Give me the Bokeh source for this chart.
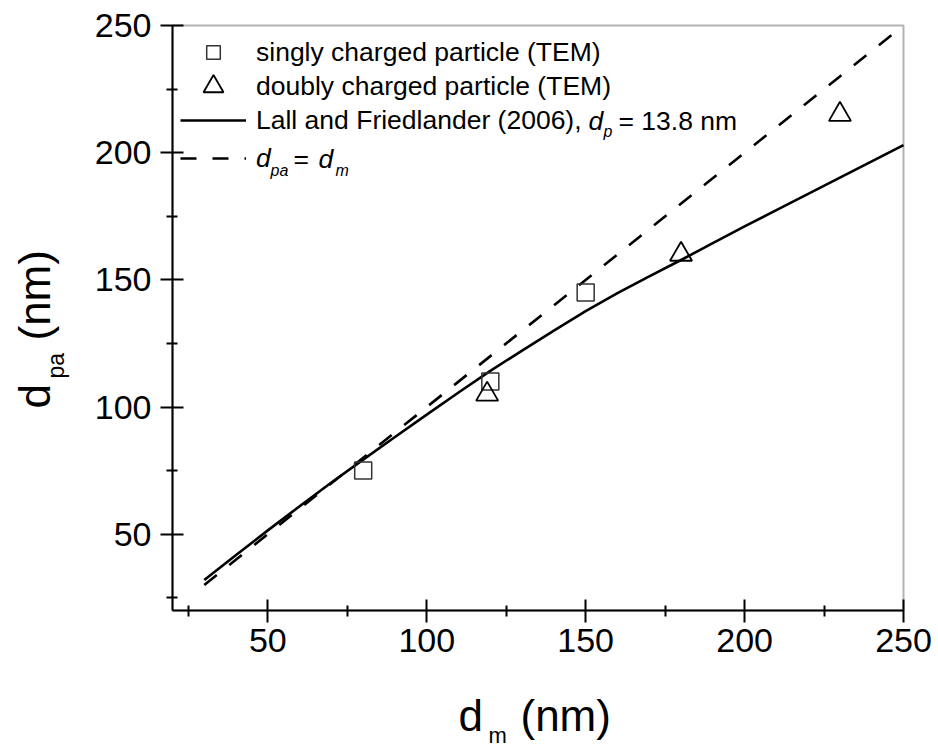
from math import pi
from bokeh.plotting import figure
from bokeh.models import Range1d, Legend, LegendItem, Label, FixedTicker, BoxAnnotation
from bokeh.embed import file_html
from bokeh.resources import INLINE

# ---------------- data ----------------
dm_single = [80, 120, 150]
dpa_single = [75, 110, 145]
dm_double = [119, 180, 230]
dpa_double = [105, 160, 215]
dm_model = [30, 40, 50, 60, 70, 80, 90, 100, 110, 120, 130, 140, 150,
            160, 170, 180, 190, 200, 210, 220, 230, 240, 250]
dpa_model = [32, 41.8, 51.5, 61, 70.3, 79.3, 88.2, 97, 105.7, 114.2, 122.2, 130, 137.7,
             144.8, 151.4, 157.8, 164.4, 171, 177.4, 183.8, 190.2, 196.6, 203]
dm_equal = [30, 250]
dpa_equal = [30, 250]
major_ticks = [50, 100, 150, 200, 250]
minor_ticks = [25, 75, 125, 175, 225]
axis_min, axis_max = 20, 250

FONT = "Liberation Sans"
W, H = 938, 750
# pixel box of the axes area inside the canvas
PX_L, PX_R, PX_T, PX_B = 172, 903, 25, 610

sx_per = (PX_R - PX_L) / (axis_max - axis_min)
sy_per = (PX_B - PX_T) / (axis_max - axis_min)
x_range = Range1d(axis_min - PX_L / sx_per, axis_max + (W - PX_R) / sx_per)
y_range = Range1d(axis_min - (H - PX_B) / sy_per, axis_max + PX_T / sy_per)

p = figure(width=W, height=H, x_range=x_range, y_range=y_range,
           output_backend="svg", toolbar_location=None, min_border=0)
p.grid.visible = False
p.outline_line_color = None
p.background_fill_color = "white"
p.border_fill_color = "white"

for ax in (p.xaxis[0], p.yaxis[0]):
    ax.fixed_location = axis_min
    ax.bounds = (axis_min, axis_max)
    ax.ticker = FixedTicker(ticks=major_ticks, minor_ticks=minor_ticks)
    ax.axis_line_width = 2
    ax.axis_line_color = "black"
    ax.major_tick_line_width = 2
    ax.minor_tick_line_width = 2
    ax.major_tick_in = 11
    ax.major_tick_out = 12
    ax.minor_tick_in = 5
    ax.minor_tick_out = 6
    ax.major_label_text_font = FONT
    ax.major_label_text_font_size = "34px"
    ax.major_label_text_color = "black"
p.xaxis[0].major_label_standoff = 6
p.yaxis[0].major_label_standoff = 9

# box around the axes area (top / right borders)
p.add_layout(BoxAnnotation(left=axis_min, right=axis_max, bottom=axis_min, top=axis_max,
                           fill_alpha=0, line_color="black", line_width=2, level="underlay"))

# ---------------- glyphs ----------------
r_eq = p.line(dm_equal, dpa_equal, line_color="black", line_width=2.6, line_dash="16 16")
r_fit = p.line(dm_model, dpa_model, line_color="black", line_width=2.6)
r_sq = p.scatter(dm_single, dpa_single, marker="square", size=17, fill_color=None,
                 line_color="#333333", line_width=1.5)
r_tri = p.scatter(dm_double, dpa_double, marker="triangle", size=22, fill_color=None,
                  line_color="black", line_width=1.8)

LEG_FS = 26.5

# ---------------- legend (one key per row) ----------------
def legend_row(label, renderer, center_px, glyph_h=34, italic=False):
    lg = Legend(items=[LegendItem(label=label, renderers=[renderer])],
                location=(180, H - (center_px + glyph_h / 2)), orientation="vertical",
                glyph_width=66, glyph_height=glyph_h, label_standoff=10, spacing=0,
                padding=0, margin=0, border_line_color=None, background_fill_alpha=0,
                label_text_font=FONT, label_text_font_size=f"{LEG_FS}px",
                label_text_font_style="italic" if italic else "normal",
                label_text_color="black")
    p.add_layout(lg)

legend_row("singly charged particle (TEM)", r_sq, 52)
legend_row("doubly charged particle (TEM)", r_tri, 86, glyph_h=50)
legend_row("Lall and Friedlander (2006),", r_fit, 120)
legend_row("d", r_eq, 158, italic=True)

def add_text(txt, X, Y, size, italic=False, angle=0.0):
    # (X, Y): start of the text and the middle of its line, in canvas pixels from top-left
    p.add_layout(Label(x=X, y=H - Y, x_units="screen", y_units="screen",
                       text=txt, text_font=FONT, text_font_size=f"{size}px",
                       text_font_style="italic" if italic else "normal",
                       text_baseline="middle", text_align="left",
                       angle=angle, text_color="black"))

# legend rich-text parts (rows centred at y = 120 and y = 158)
add_text("d", 588, 120, LEG_FS, italic=True)
add_text("p", 603, 131, 16, italic=True)
add_text("= 13.8 nm", 618, 120, LEG_FS)
add_text("pa", 270, 170, 16, italic=True)
add_text("=", 293, 158, LEG_FS)
add_text("d", 318, 158, LEG_FS, italic=True)
add_text("m", 335, 170, 16, italic=True)

# axis titles (middle line = baseline - 0.3 * size)
add_text("d", 458, 715, 44)
add_text("m", 488, 735, 22)
add_text("(nm)", 520, 715, 44)
add_text("d", 34, 408, 44, angle=pi / 2)
add_text("pa", 55, 378, 23, angle=pi / 2)
add_text("(nm)", 34, 340, 44, angle=pi / 2)

open("out.html", "w").write(file_html(p, INLINE))
